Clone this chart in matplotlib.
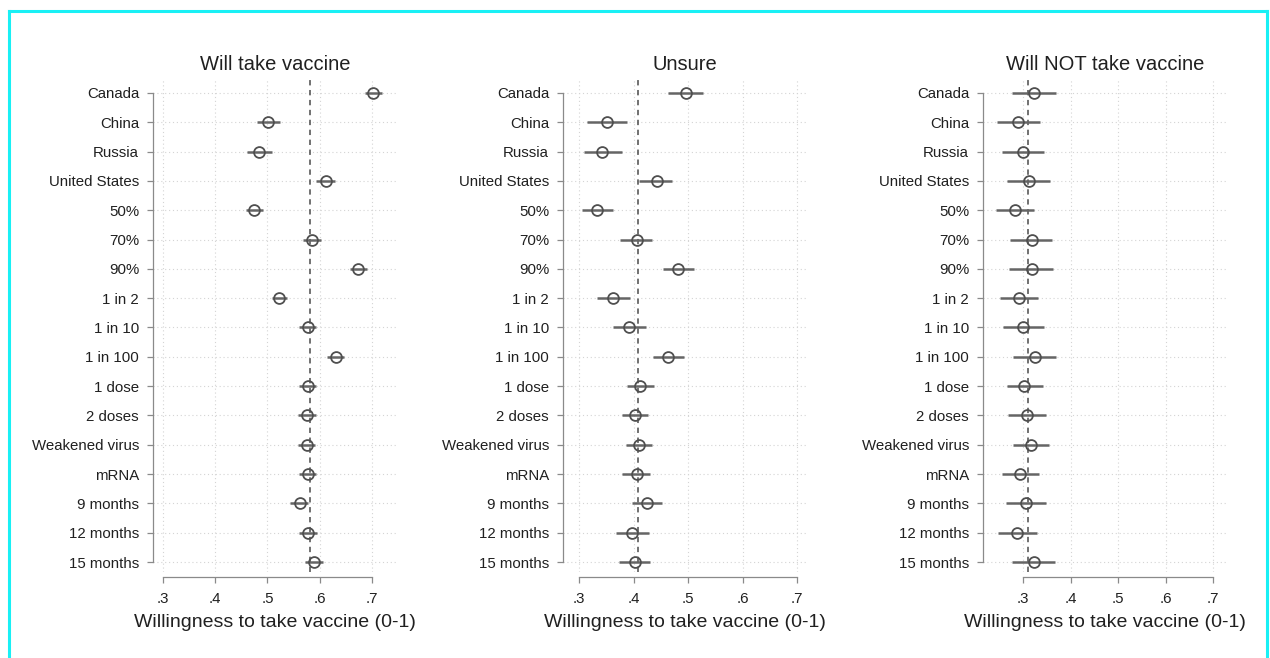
import matplotlib
matplotlib.use("Agg")
import matplotlib.pyplot as plt
from matplotlib.lines import Line2D
import numpy as np

plt.rcParams['font.family'] = ['Liberation Sans', 'DejaVu Sans']

categories = ["Canada", "China", "Russia", "United States", "50%", "70%", "90%",
              "1 in 2", "1 in 10", "1 in 100", "1 dose", "2 doses", "Weakened virus",
              "mRNA", "9 months", "12 months", "15 months"]

titles = ["Will take vaccine", "Unsure", "Will NOT take vaccine"]

will_est = [0.702, 0.501, 0.484, 0.612, 0.474, 0.585, 0.673, 0.522, 0.578, 0.631,
            0.578, 0.576, 0.576, 0.578, 0.562, 0.578, 0.589]
will_lo = [0.686, 0.480, 0.461, 0.593, 0.459, 0.568, 0.658, 0.509, 0.560, 0.614,
           0.560, 0.558, 0.558, 0.560, 0.544, 0.560, 0.571]
will_hi = [0.719, 0.524, 0.509, 0.629, 0.491, 0.602, 0.690, 0.537, 0.593, 0.646,
           0.593, 0.593, 0.592, 0.593, 0.578, 0.595, 0.607]

unsure_est = [0.496, 0.351, 0.342, 0.443, 0.333, 0.406, 0.482, 0.363, 0.392, 0.463,
              0.412, 0.403, 0.410, 0.406, 0.425, 0.397, 0.403]
unsure_lo = [0.463, 0.315, 0.309, 0.410, 0.306, 0.375, 0.454, 0.333, 0.362, 0.436,
             0.388, 0.379, 0.386, 0.379, 0.397, 0.368, 0.373]
unsure_hi = [0.528, 0.388, 0.379, 0.471, 0.362, 0.434, 0.511, 0.393, 0.423, 0.493,
             0.438, 0.427, 0.434, 0.430, 0.452, 0.428, 0.430]

not_est = [0.323, 0.289, 0.300, 0.313, 0.283, 0.319, 0.319, 0.292, 0.300, 0.325,
           0.302, 0.308, 0.317, 0.294, 0.306, 0.287, 0.323]
not_lo = [0.277, 0.245, 0.256, 0.266, 0.243, 0.273, 0.271, 0.252, 0.258, 0.279,
          0.266, 0.268, 0.279, 0.256, 0.264, 0.247, 0.277]
not_hi = [0.369, 0.336, 0.344, 0.357, 0.323, 0.361, 0.363, 0.332, 0.344, 0.369,
          0.342, 0.348, 0.355, 0.334, 0.348, 0.329, 0.367]

ref_lines = [0.581, 0.409, 0.310]

xticks = [0.3, 0.4, 0.5, 0.6, 0.7]
xticklabels = [".3", ".4", ".5", ".6", ".7"]
xlabel = "Willingness to take vaccine (0-1)"

series = [(will_est, will_lo, will_hi), (unsure_est, unsure_lo, unsure_hi),
          (not_est, not_lo, not_hi)]
xlims = [(0.281, 0.748), (0.2706, 0.718), (0.2158, 0.729)]
lefts_px = [153, 563, 983]

W, H = 1270, 658
fig = plt.figure(figsize=(W / 100, H / 100), dpi=100)
fig.patch.set_facecolor("white")

ax_top_px, ax_bot_px = 80, 572
ax_w_px = 244
n = len(categories)
row_sp = (562 - 93) / (n - 1)
y_top = -(93 - ax_top_px) / row_sp
y_bot = (n - 1) + (ax_bot_px - 562) / row_sp

grid_kw = dict(color="#d4d4d4", linestyle=(0, (1, 2.5)), linewidth=0.8, zorder=0)
axis_col = "#8a8a8a"
txt_col = "#202020"
ypos = np.arange(n)

for i in range(3):
    est, lo, hi = series[i]
    ax = fig.add_axes([lefts_px[i] / W, 1 - ax_bot_px / H, ax_w_px / W,
                       (ax_bot_px - ax_top_px) / H])
    ax.set_xlim(*xlims[i])
    ax.set_ylim(y_bot, y_top)
    for y in ypos:
        ax.axhline(y, **grid_kw)
    for x in xticks:
        ax.axvline(x, **grid_kw)
    ax.axvline(ref_lines[i], color="#4a4a4a", linestyle=(0, (3.5, 3)),
               linewidth=1.1, zorder=2)
    ax.hlines(ypos, lo, hi, color="#656565", linewidth=1.8, zorder=3)
    ax.plot(est, ypos, linestyle="none", marker="o", markersize=7.8,
            markerfacecolor="none", markeredgecolor="#4f4f4f",
            markeredgewidth=1.3, zorder=4)

    ax.set_yticks(ypos)
    ax.set_yticklabels(categories)
    ax.set_xticks(xticks)
    ax.set_xticklabels(xticklabels)
    for s in ["top", "right"]:
        ax.spines[s].set_visible(False)
    ax.spines["left"].set_bounds(0, n - 1)
    ax.spines["bottom"].set_bounds(0.3, 0.7)
    ax.spines["bottom"].set_position(("outward", 3.6))
    for s in ["left", "bottom"]:
        ax.spines[s].set_color(axis_col)
        ax.spines[s].set_linewidth(0.9)
    ax.tick_params(axis="both", colors=axis_col, labelcolor=txt_col,
                   labelsize=10.8, length=4.5, width=0.9)
    ax.tick_params(axis="y", pad=5.5)
    ax.tick_params(axis="x", pad=6)
    ax.set_xlabel(xlabel, fontsize=14, color=txt_col, labelpad=6)
    ax.set_title(titles[i], fontsize=14.5, color=txt_col, pad=7.5)

# cyan frame
cy = "#19f0f5"
fig.add_artist(Line2D([9 / W, 1267 / W], [1 - 11 / H, 1 - 11 / H],
                      transform=fig.transFigure, color=cy, linewidth=2.2))
fig.add_artist(Line2D([9 / W, 9 / W], [1 - 11 / H, 0], transform=fig.transFigure,
                      color=cy, linewidth=2.2))
fig.add_artist(Line2D([1267 / W, 1267 / W], [1 - 11 / H, 0], transform=fig.transFigure,
                      color=cy, linewidth=2.2))

fig.savefig("out.png", dpi=100)
